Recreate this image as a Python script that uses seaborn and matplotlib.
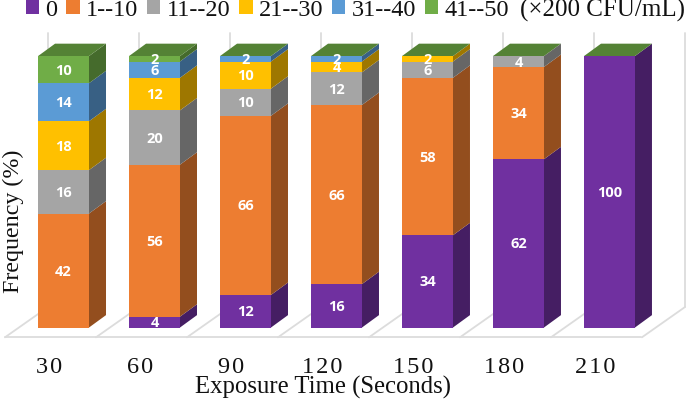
import numpy as np
import pandas as pd
import seaborn as sns
import matplotlib.pyplot as plt
from matplotlib.colors import to_rgb
from matplotlib.patches import Polygon
from matplotlib.transforms import ScaledTranslation

times = ['30', '60', '90', '120', '150', '180', '210']
time_labels = ['3\u200a0', '6\u200a0', '9\u200a0', '1\u200a2\u200a0', '1\u200a5\u200a0', '1\u200a8\u200a0', '2\u200a1\u200a0']
series = ['0', '1--10', '11--20', '21--30', '31--40', '41--50']
s0 = [0, 4, 12, 16, 34, 62, 100]
s1 = [42, 56, 66, 66, 58, 34, 0]
s2 = [16, 20, 10, 12, 6, 4, 0]
s3 = [18, 12, 10, 4, 2, 0, 0]
s4 = [14, 6, 2, 2, 0, 0, 0]
s5 = [10, 2, 0, 0, 0, 0, 0]
colors = ['#7030A0', '#ED7D31', '#A5A5A5', '#FFC000', '#5B9BD5', '#70AD47']

sns.set_theme(style='white')
plt.rcParams['font.family'] = ['Liberation Serif', 'DejaVu Sans']

fig = plt.figure(figsize=(6.86, 4), dpi=100)
ax = fig.add_axes([5 / 686, 1 - 337.3 / 400, 680 / 686, 304.3 / 400])

# depth of the fake 3d boxes, in data units
dx, dy = 0.187, 4.57
wall = '#DCDCDC'

bottom = np.zeros(len(times))
for name, vals, c in zip(series, [s0, s1, s2, s3, s4, s5], colors):
    df = pd.DataFrame({'time': times, 'freq': vals})
    sns.barplot(data=df, x='time', y='freq', color=c, saturation=1, width=0.56,
                bottom=bottom, errorbar=None, label=name, ax=ax, zorder=3, linewidth=0)
    bottom = bottom + np.array(vals)

# side and top faces from the bars seaborn drew
for cont, c in zip(ax.containers, colors):
    side = tuple(v * 0.62 for v in to_rgb(c))
    for rect in cont.patches:
        x = rect.get_x() + rect.get_width()
        y0, h = rect.get_y(), rect.get_height()
        if h > 0:
            ax.add_patch(Polygon([(x, y0), (x + dx, y0 + dy), (x + dx, y0 + h + dy), (x, y0 + h)],
                                 fc=side, ec='none', zorder=2.5))
for rect in ax.containers[-1].patches:
    x, w = rect.get_x(), rect.get_width()
    y = rect.get_y() + rect.get_height()
    ax.add_patch(Polygon([(x, y), (x + w, y), (x + w + dx, y + dy), (x + dx, y + dy)],
                         fc='#548235', ec='none', zorder=2.6))

# value labels
for cont, vals in zip(ax.containers, [s0, s1, s2, s3, s4, s5]):
    labs = ax.bar_label(cont, labels=[str(v) if v else '' for v in vals], label_type='center',
                        color='white', fontsize=10.5, fontweight='bold', family='Open Sans', zorder=5)
    for t in labs:
        t.xyann = (0, -0.8)

# floor and walls
ax.set_xlim(-0.643, 6.83)
ax.set_ylim(-3.6, 108.5)
ax.plot([-0.643, 6.35], [-3.6, -3.6], color=wall, lw=1.3, zorder=1, clip_on=False)
for k in range(8):
    ax.plot([-0.643 + k, -0.17 + k], [-3.6, 7.55], color=wall, lw=1.3, zorder=1, clip_on=False)
    ax.plot([-0.17 + k, -0.17 + k], [7.55, 108.5], color=wall, lw=1.3, zorder=1, clip_on=False)

ax.set_xticks(range(len(times)))
ax.set_xticklabels(time_labels, fontsize=17.5, color='#111111')
ax.set_yticks([])
ax.tick_params(axis='x', length=0, pad=14)
# tick labels sit left of the bars, under the floor
shift = ScaledTranslation(-14.5 / 100, 0, fig.dpi_scale_trans)
for lab in ax.get_xticklabels():
    lab.set_transform(lab.get_transform() + shift)
sns.despine(ax=ax, left=True, bottom=True)

ax.set_xlabel('Exposure Time (Seconds)', fontsize=17.8, color='#111111', va='center')
ax.xaxis.set_label_coords((323 - 5) / 680, -(387 - 337.3) / 304.3)
ax.set_ylabel('Frequency (%)', fontsize=17.3, color='#111111', va='center')
ax.yaxis.set_label_coords((13 - 5) / 680, (337.3 - 221) / 304.3)

h, l = ax.get_legend_handles_labels()
ax.legend(h, l, ncol=6, frameon=False, fontsize=17.5, handlelength=0.55, handleheight=0.55,
          handletextpad=0.25, columnspacing=0.37, loc='center left', borderpad=0, borderaxespad=0,
          bbox_to_anchor=((26 - 5) / 680, (337.3 - 10) / 304.3), labelcolor='#111111')
fig.text(520 / 686, 1 - 10 / 400, '(×200 CFU/mL)', fontsize=18, color='#111111', va='center')

fig.savefig('out.png', dpi=100)
